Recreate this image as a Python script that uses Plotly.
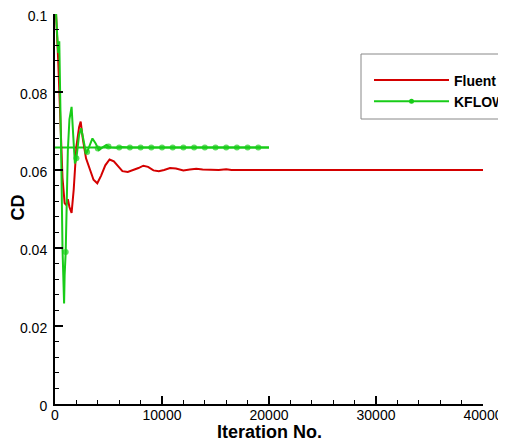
import plotly.graph_objects as go

# Fluent convergence history
fluent_iter = [0, 100, 300, 500, 700, 900, 1050, 1200, 1350, 1550, 1750, 2000, 2250, 2400,
               2600, 2900, 3250, 3600, 3950, 4300, 4700, 5100, 5500, 5900, 6300, 6800,
               7300, 7800, 8250, 8700, 9200, 9700, 10200, 10750, 11300, 12000, 12600,
               13200, 13800, 14500, 15300, 16000, 16500, 40000]
fluent_cd = [0.110, 0.100, 0.088, 0.072, 0.058, 0.0515, 0.0510, 0.0525, 0.0505, 0.0490,
             0.0550, 0.0660, 0.0710, 0.0724, 0.0680, 0.0630, 0.0600, 0.0575, 0.0566,
             0.0585, 0.0612, 0.0627, 0.0622, 0.0608, 0.0597, 0.0595, 0.0599, 0.0605,
             0.0611, 0.0608, 0.0599, 0.0597, 0.0600, 0.0605, 0.0604, 0.0599, 0.0601,
             0.0603, 0.0601, 0.0600, 0.0600, 0.0602, 0.0600, 0.0600]

# KFLOW convergence history
kflow_iter = [0, 100, 200, 300, 400, 500, 600, 700, 800, 850, 900, 1000, 1100, 1200, 1350,
              1550, 1700, 1860, 2000, 2250, 2450, 2650, 2900, 3000, 3200, 3500, 3800, 4000,
              4100, 4450, 4800, 5000, 5200, 5700, 6000, 6200, 7000, 8000, 9000, 10000,
              11000, 12000, 13000, 14000, 15000, 16000, 17000, 18000, 19000, 20000]
kflow_cd = [0.105, 0.100, 0.094, 0.090, 0.093, 0.080, 0.060, 0.040, 0.027, 0.0258, 0.033,
            0.039, 0.052, 0.065, 0.073, 0.0762, 0.069, 0.0617, 0.0630, 0.0690, 0.0707,
            0.0680, 0.0643, 0.0646, 0.0660, 0.0681, 0.0668, 0.0655, 0.0651, 0.0658, 0.0664,
            0.0660, 0.0658, 0.0657, 0.0658, 0.0659, 0.0658, 0.0658, 0.0658, 0.0658, 0.0658,
            0.0658, 0.0658, 0.0658, 0.0658, 0.0658, 0.0658, 0.0658, 0.0658, 0.0658]
kflow_marker_step = 1000

# converged KFLOW reference level
kflow_ref_iter = [0, 20000]
kflow_ref_cd = [0.0658, 0.0658]

x_ticks = [0, 10000, 20000, 30000, 40000]
y_ticks = [0, 0.02, 0.04, 0.06, 0.08, 0.1]
y_tick_labels = ["0", "0.02", "0.04", "0.06", "0.08", "0.1"]

RED = "#d40000"
GREEN = "#18cc18"
FONT = "Arial, Liberation Sans, sans-serif"

# plot-area geometry in screen pixels (page has an 8px body margin)
PX0, PX1, PY0, PY1 = 55, 483, 14, 404


def px(xp):
    return (xp - PX0) / (PX1 - PX0)


def py(yp):
    return (PY1 - yp) / (PY1 - PY0)


marker_sizes = [6 if (it % kflow_marker_step == 0 and 0 < it < 20000) else 0 for it in kflow_iter]

fig = go.Figure()
fig.add_trace(go.Scatter(x=kflow_ref_iter, y=kflow_ref_cd, mode="lines",
                         line=dict(color=GREEN, width=2), showlegend=False, hoverinfo="skip"))
fig.add_trace(go.Scatter(x=fluent_iter, y=fluent_cd, mode="lines", name="Fluent",
                         line=dict(color=RED, width=2)))
fig.add_trace(go.Scatter(x=kflow_iter, y=kflow_cd, mode="lines+markers", name="KFLOW",
                         line=dict(color=GREEN, width=2), showlegend=False,
                         marker=dict(color=GREEN, size=marker_sizes, line=dict(width=0))))
# legend entry for KFLOW (line with a single marker)
fig.add_trace(go.Scatter(x=[None], y=[None], mode="lines+markers", name="KFLOW",
                         line=dict(color=GREEN, width=2),
                         marker=dict(color=GREEN, size=5, line=dict(width=0))))

axis_common = dict(showline=True, linecolor="black", linewidth=2, mirror=False,
                   showgrid=False, zeroline=False, ticks="inside", ticklen=8,
                   tickwidth=2, tickcolor="black", automargin=False,
                   ticklabeloverflow="allow",
                   tickfont=dict(family=FONT, size=14, color="black"))

fig.update_xaxes(range=[0, 40000], tickvals=x_ticks, ticktext=[str(v) for v in x_ticks],
                 ticklabelstandoff=-3,
                 minor=dict(dtick=2000, ticks="inside", ticklen=4, tickwidth=1, tickcolor="black"),
                 **axis_common)
fig.update_yaxes(range=[0, 0.1], tickvals=y_ticks, ticktext=y_tick_labels,
                 ticklabelstandoff=3, ticklabelshift=2,
                 minor=dict(dtick=0.004, ticks="inside", ticklen=4, tickwidth=1, tickcolor="black"),
                 **axis_common)

# axis titles
fig.add_annotation(text="<b>Iteration No.</b>", xref="paper", yref="paper",
                   x=px(269), y=py(432), xanchor="center", yanchor="middle", showarrow=False,
                   font=dict(family=FONT, size=18, color="black"))
fig.add_annotation(text="<b>CD</b>", xref="paper", yref="paper", textangle=-90,
                   x=px(17.5), y=py(208), xanchor="center", yanchor="middle", showarrow=False,
                   font=dict(family=FONT, size=18, color="black"))

# legend frame
fig.add_shape(type="rect", xref="paper", yref="paper",
              x0=px(361), x1=px(540), y0=py(119), y1=py(54),
              line=dict(color="#888888", width=1), fillcolor="white", layer="below")

fig.update_layout(
    width=498, height=435,
    margin=dict(l=PX0 - 8, r=498 - (PX1 - 8), t=PY0 - 8, b=435 - (PY1 - 8), autoexpand=False),
    paper_bgcolor="white", plot_bgcolor="white",
    showlegend=True,
    legend=dict(x=px(369), y=py(91), xanchor="left", yanchor="middle",
                bgcolor="rgba(0,0,0,0)", borderwidth=0, itemwidth=75,
                font=dict(family=FONT, size=14, color="black", weight="bold"), tracegroupgap=0),
    font=dict(family=FONT, color="black"),
)

fig.write_html("out.html")
